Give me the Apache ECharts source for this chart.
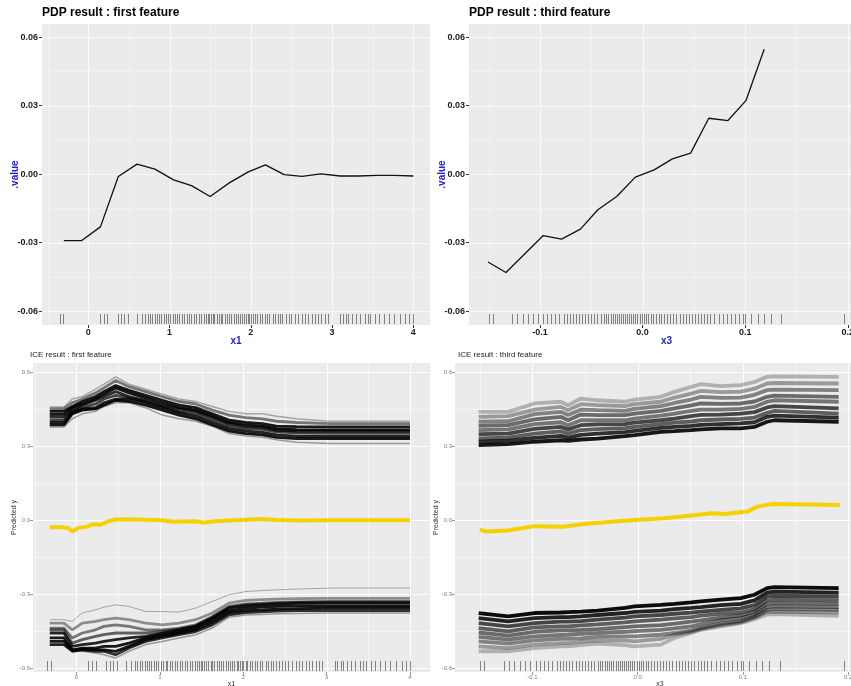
<!DOCTYPE html>
<html><head><meta charset="utf-8">
<script src="https://cdn.jsdelivr.net/npm/echarts@6/dist/echarts.min.js"></script>
<style>html,body{margin:0;padding:0;background:#fff}#c{width:851px;height:686px}</style>
</head><body><div id="c"></div><script>
// ---------- DATA ----------
// PDP, first feature (x1)
const pdpX1 = [-0.30,-0.08,0.15,0.37,0.60,0.82,1.05,1.27,1.50,1.74,1.97,2.18,2.41,2.63,2.86,3.10,3.32,3.55,3.77,4.00];
const pdpY1 = [-0.0291,-0.0291,-0.0231,-0.0010,0.0044,0.0022,-0.0025,-0.0050,-0.0098,-0.0037,0.0010,0.0041,-0.0002,-0.0010,0.0001,-0.0008,-0.0008,-0.0005,-0.0005,-0.0008];
// PDP, third feature (x3)
const pdpX3 = [-0.1507,-0.1332,-0.1150,-0.0968,-0.0790,-0.0606,-0.0436,-0.0252,-0.0071,0.0113,0.0290,0.0468,0.0645,0.0832,0.1007,0.1185];
const pdpY3 = [-0.0385,-0.0431,-0.0350,-0.0269,-0.0285,-0.0241,-0.0156,-0.0098,-0.0013,0.0019,0.0067,0.0092,0.0245,0.0235,0.0322,0.0547];

// rug values
const rugX1 = [-0.35,-0.31,0.14,0.19,0.23,0.36,0.4,0.44,0.49,0.6,0.66,0.7,0.73,0.76,0.79,0.82,0.85,0.87,0.9,0.93,0.96,0.98,1.01,1.04,1.07,1.09,1.12,1.15,1.18,1.21,1.24,1.27,1.3,1.33,1.36,1.39,1.42,1.45,1.47,1.49,1.51,1.53,1.55,1.58,1.61,1.63,1.65,1.68,1.71,1.73,1.76,1.79,1.82,1.84,1.87,1.89,1.92,1.94,1.96,1.98,2.0,2.03,2.05,2.08,2.11,2.14,2.17,2.2,2.23,2.27,2.3,2.33,2.36,2.39,2.43,2.47,2.5,2.54,2.58,2.63,2.67,2.71,2.75,2.79,2.83,2.87,2.91,2.95,3.1,3.13,3.17,3.2,3.24,3.29,3.34,3.4,3.44,3.47,3.53,3.58,3.64,3.7,3.76,3.83,3.9,3.95,4.0];
const rugX3 = [-0.150,-0.146,-0.127,-0.122,-0.117,-0.112,-0.107,-0.102,-0.097,-0.093,-0.089,-0.085,-0.081,-0.077,-0.074,-0.071,-0.068,-0.065,-0.062,-0.059,-0.056,-0.053,-0.050,-0.047,-0.044,-0.041,-0.038,-0.036,-0.034,-0.031,-0.029,-0.027,-0.025,-0.023,-0.021,-0.019,-0.017,-0.015,-0.013,-0.011,-0.009,-0.007,-0.005,-0.003,-0.001,0.001,0.003,0.005,0.008,0.010,0.013,0.016,0.018,0.021,0.024,0.027,0.030,0.033,0.036,0.039,0.042,0.045,0.048,0.051,0.054,0.057,0.060,0.063,0.066,0.070,0.074,0.078,0.082,0.086,0.090,0.094,0.098,0.100,0.106,0.112,0.118,0.125,0.135,0.196];

// ICE, first feature: x grid, upper cluster curves, lower cluster curves, mean curve
const iceX1 = [-0.32,-0.15,-0.05,0.07,0.23,0.33,0.47,0.63,0.83,1.03,1.23,1.43,1.63,1.83,2.03,2.23,2.4,2.64,3.04,4.0];
const ice1Upper = [
  [0.458,0.458,0.49,0.50,0.53,0.55,0.58,0.55,0.53,0.51,0.49,0.48,0.46,0.44,0.43,0.43,0.42,0.41,0.40,0.40],
  [0.450,0.450,0.475,0.49,0.515,0.535,0.565,0.54,0.52,0.50,0.48,0.47,0.445,0.425,0.415,0.41,0.40,0.395,0.39,0.39],
  [0.440,0.440,0.46,0.48,0.50,0.52,0.545,0.525,0.505,0.485,0.465,0.455,0.43,0.405,0.395,0.39,0.38,0.378,0.377,0.377],
  [0.428,0.428,0.455,0.47,0.49,0.51,0.535,0.515,0.495,0.475,0.455,0.445,0.42,0.395,0.385,0.38,0.37,0.366,0.365,0.365],
  [0.418,0.418,0.445,0.465,0.485,0.50,0.52,0.50,0.485,0.465,0.45,0.44,0.415,0.39,0.378,0.375,0.363,0.36,0.36,0.36],
  [0.405,0.405,0.44,0.455,0.47,0.49,0.505,0.495,0.48,0.46,0.44,0.43,0.405,0.38,0.37,0.367,0.357,0.353,0.352,0.352],
  [0.395,0.395,0.435,0.45,0.455,0.475,0.49,0.49,0.475,0.455,0.435,0.42,0.395,0.37,0.36,0.355,0.345,0.34,0.34,0.34],
  [0.385,0.385,0.43,0.445,0.45,0.465,0.485,0.48,0.465,0.445,0.425,0.41,0.385,0.36,0.35,0.345,0.335,0.33,0.33,0.33],
  [0.377,0.377,0.41,0.43,0.44,0.46,0.475,0.475,0.455,0.425,0.41,0.40,0.38,0.35,0.34,0.335,0.325,0.315,0.31,0.31]
];
const ice1Lower = [
  [-0.404,-0.404,-0.411,-0.377,-0.364,-0.353,-0.344,-0.350,-0.371,-0.371,-0.373,-0.357,-0.330,-0.303,-0.290,-0.286,-0.283,-0.280,-0.276,-0.276],
  [-0.418,-0.418,-0.445,-0.418,-0.411,-0.404,-0.398,-0.404,-0.418,-0.425,-0.418,-0.404,-0.377,-0.337,-0.326,-0.323,-0.321,-0.319,-0.318,-0.318],
  [-0.438,-0.438,-0.478,-0.458,-0.445,-0.431,-0.425,-0.431,-0.445,-0.445,-0.438,-0.425,-0.391,-0.350,-0.340,-0.337,-0.334,-0.332,-0.330,-0.330],
  [-0.445,-0.445,-0.499,-0.485,-0.472,-0.465,-0.458,-0.458,-0.458,-0.451,-0.442,-0.429,-0.394,-0.353,-0.344,-0.340,-0.337,-0.334,-0.333,-0.333],
  [-0.458,-0.458,-0.512,-0.505,-0.499,-0.492,-0.485,-0.478,-0.472,-0.458,-0.445,-0.431,-0.398,-0.357,-0.348,-0.344,-0.341,-0.338,-0.337,-0.337],
  [-0.478,-0.478,-0.526,-0.519,-0.519,-0.512,-0.512,-0.499,-0.478,-0.465,-0.452,-0.438,-0.404,-0.367,-0.357,-0.353,-0.350,-0.348,-0.348,-0.348],
  [-0.492,-0.492,-0.528,-0.523,-0.526,-0.526,-0.532,-0.512,-0.485,-0.472,-0.458,-0.445,-0.415,-0.375,-0.367,-0.364,-0.361,-0.359,-0.357,-0.357],
  [-0.505,-0.505,-0.532,-0.526,-0.532,-0.532,-0.546,-0.519,-0.492,-0.478,-0.465,-0.452,-0.425,-0.384,-0.375,-0.372,-0.369,-0.367,-0.367,-0.367],
  [-0.505,-0.505,-0.532,-0.532,-0.539,-0.546,-0.559,-0.532,-0.505,-0.492,-0.478,-0.465,-0.438,-0.394,-0.385,-0.383,-0.380,-0.379,-0.377,-0.377]
];
const iceMeanX1 = [-0.32,-0.15,-0.09,-0.05,0.03,0.13,0.19,0.23,0.29,0.39,0.47,0.63,0.83,1.03,1.15,1.43,1.53,1.63,1.83,2.03,2.23,2.4,2.64,3.04,4.0];
const iceMeanY1 = [-0.030,-0.030,-0.034,-0.047,-0.031,-0.027,-0.018,-0.017,-0.019,-0.004,0.002,0.003,0.001,-0.001,-0.007,-0.005,-0.011,-0.006,-0.002,0.001,0.004,0.0,-0.002,-0.001,-0.001];

// ICE, third feature
const iceX3 = [-0.151,-0.123,-0.098,-0.073,-0.066,-0.054,-0.038,-0.012,-0.003,0.022,0.035,0.051,0.060,0.079,0.098,0.111,0.123,0.130,0.191];
const ice3Upper = [
  [0.438,0.438,0.472,0.479,0.465,0.492,0.485,0.479,0.488,0.499,0.519,0.539,0.550,0.542,0.546,0.559,0.580,0.582,0.580],
  [0.418,0.421,0.447,0.458,0.445,0.469,0.465,0.461,0.469,0.479,0.496,0.512,0.523,0.518,0.520,0.532,0.553,0.555,0.553],
  [0.398,0.400,0.429,0.438,0.425,0.447,0.445,0.442,0.450,0.461,0.474,0.488,0.499,0.495,0.496,0.507,0.526,0.528,0.526],
  [0.381,0.384,0.408,0.418,0.404,0.427,0.425,0.425,0.431,0.442,0.452,0.464,0.472,0.470,0.472,0.480,0.499,0.504,0.499],
  [0.364,0.367,0.388,0.396,0.384,0.404,0.404,0.404,0.411,0.423,0.431,0.442,0.447,0.447,0.450,0.458,0.479,0.485,0.479],
  [0.348,0.350,0.369,0.377,0.367,0.384,0.387,0.388,0.394,0.404,0.411,0.421,0.426,0.427,0.431,0.437,0.456,0.461,0.452],
  [0.330,0.334,0.350,0.359,0.350,0.364,0.368,0.372,0.377,0.388,0.394,0.399,0.404,0.407,0.410,0.415,0.434,0.442,0.431],
  [0.317,0.321,0.333,0.341,0.334,0.345,0.350,0.356,0.361,0.373,0.377,0.381,0.385,0.388,0.391,0.396,0.418,0.423,0.415],
  [0.303,0.307,0.317,0.323,0.321,0.326,0.330,0.340,0.344,0.357,0.360,0.364,0.367,0.371,0.371,0.377,0.398,0.404,0.398]
];
const ice3Lower = [
  [-0.377,-0.391,-0.377,-0.375,-0.373,-0.371,-0.367,-0.356,-0.350,-0.344,-0.340,-0.334,-0.330,-0.323,-0.317,-0.303,-0.276,-0.272,-0.276],
  [-0.398,-0.411,-0.398,-0.394,-0.394,-0.391,-0.385,-0.377,-0.372,-0.367,-0.361,-0.356,-0.353,-0.345,-0.340,-0.326,-0.294,-0.290,-0.294],
  [-0.418,-0.431,-0.418,-0.412,-0.412,-0.410,-0.404,-0.396,-0.391,-0.385,-0.380,-0.375,-0.371,-0.364,-0.358,-0.345,-0.310,-0.307,-0.310],
  [-0.438,-0.451,-0.435,-0.431,-0.431,-0.427,-0.423,-0.415,-0.411,-0.404,-0.399,-0.394,-0.388,-0.380,-0.375,-0.361,-0.326,-0.323,-0.326],
  [-0.456,-0.469,-0.453,-0.447,-0.447,-0.445,-0.442,-0.434,-0.431,-0.426,-0.420,-0.412,-0.407,-0.396,-0.388,-0.372,-0.340,-0.337,-0.340],
  [-0.474,-0.485,-0.472,-0.466,-0.465,-0.461,-0.458,-0.453,-0.450,-0.445,-0.439,-0.431,-0.423,-0.407,-0.398,-0.383,-0.353,-0.350,-0.353],
  [-0.492,-0.501,-0.488,-0.482,-0.482,-0.480,-0.474,-0.472,-0.472,-0.465,-0.458,-0.447,-0.437,-0.420,-0.410,-0.391,-0.364,-0.361,-0.364],
  [-0.512,-0.519,-0.505,-0.499,-0.499,-0.494,-0.489,-0.488,-0.492,-0.482,-0.465,-0.453,-0.442,-0.426,-0.415,-0.396,-0.372,-0.371,-0.375],
  [-0.532,-0.532,-0.519,-0.512,-0.512,-0.507,-0.501,-0.507,-0.512,-0.505,-0.478,-0.458,-0.445,-0.431,-0.418,-0.402,-0.383,-0.381,-0.388]
];
const iceMeanX3 = [-0.150,-0.144,-0.1235,-0.098,-0.070,-0.051,-0.025,-0.003,0.025,0.051,0.070,0.082,0.104,0.114,0.128,0.192];
const iceMeanY3 = [-0.038,-0.047,-0.043,-0.025,-0.027,-0.016,-0.007,0.000,0.007,0.018,0.027,0.024,0.034,0.054,0.065,0.061];

// tick labels / grid breaks
const pdpYTicks = [-0.06,-0.03,0,0.03,0.06];
const pdpYMinor = [-0.045,-0.015,0.015,0.045];
const x1Ticks = [0,1,2,3,4];
const x1Minor = [-0.5,0.5,1.5,2.5,3.5];
const x3Ticks = [-0.1,0,0.1,0.2];
const x3Minor = [-0.15,-0.05,0.05,0.15];
const iceYTicks = [-0.6,-0.3,0,0.3,0.6];
const iceYMinor = [-0.45,-0.15,0.15,0.45];

const titles = ['PDP result : first feature','PDP result : third feature','ICE result : first feature','ICE result : third feature'];

// ---------- LAYOUT / STYLE ----------
const FONT = "'Liberation Sans', Arial, Helvetica, sans-serif";
const panels = [
  {left:42, top:24, width:388, height:301, xMin:-0.569, xMax:4.205, yMin:-0.0661, yMax:0.0658, xT:x1Ticks, xM:x1Minor, yT:pdpYTicks, yM:pdpYMinor, xDec:0, yDec:2, kind:'pdp', xName:'x1', yName:'.value', rug:rugX1},
  {left:469, top:24, width:395, height:301, xMin:-0.1692, xMax:0.2158, yMin:-0.0661, yMax:0.0658, xT:x3Ticks, xM:x3Minor, yT:pdpYTicks, yM:pdpYMinor, xDec:1, yDec:2, kind:'pdp', xName:'x3', yName:'.value', rug:rugX3},
  {left:33, top:363, width:397, height:309, xMin:-0.521, xMax:4.24, yMin:-0.616, yMax:0.636, xT:x1Ticks, xM:x1Minor, yT:iceYTicks, yM:iceYMinor, xDec:0, yDec:1, kind:'ice', xName:'x1', yName:'Predicted y', rug:rugX1},
  {left:455, top:363, width:410, height:309, xMin:-0.1735, xMax:0.216, yMin:-0.616, yMax:0.636, xT:x3Ticks, xM:x3Minor, yT:iceYTicks, yM:iceYMinor, xDec:1, yDec:1, kind:'ice', xName:'x3', yName:'Predicted y', rug:rugX3}
];
const titlePos = [{left:42, top:7, size:12, bold:true}, {left:469, top:7, size:12, bold:true}, {left:30, top:351, size:8, bold:false}, {left:458, top:351, size:8, bold:false}];

const grid = [], xAxis = [], yAxis = [], series = [], title = [];
panels.forEach((p, i) => {
  const pdp = p.kind === 'pdp';
  grid.push({left:p.left, top:p.top, width:p.width, height:p.height, show:true, backgroundColor:'#EBEBEB', borderWidth:0, containLabel:false, outerBoundsMode:'none'});
  const lblStyle = pdp ? {fontSize:9, fontWeight:'bold', color:'#1a1a1a', fontFamily:FONT}
                       : {fontSize:6, color:'#7f7f7f', fontFamily:FONT};
  const nameStyle = pdp ? {fontSize:10, fontWeight:'bold', color:'#2222cc', fontFamily:FONT}
                        : {fontSize:7, color:'#333', fontFamily:FONT};
  xAxis.push({type:'value', gridIndex:i, min:p.xMin, max:p.xMax, position:'bottom',
    axisLine:{show:false, onZero:false}, splitLine:{show:false},
    axisTick:{show:true, length:3, customValues:p.xT, lineStyle:{color: pdp ? '#333' : '#999'}},
    axisLabel:{customValues:p.xT, margin: pdp ? 3 : 2, formatter:v => Number(v).toFixed(p.xDec), ...lblStyle},
    name:p.xName, nameLocation:'middle', nameGap: pdp ? 11 : 9, nameTextStyle:nameStyle, nameMoveOverlap:false});
  yAxis.push({type:'value', gridIndex:i, min:p.yMin, max:p.yMax, position:'left',
    axisLine:{show:false, onZero:false}, splitLine:{show:false},
    axisTick:{show:true, length:3, customValues:p.yT, lineStyle:{color: pdp ? '#333' : '#999'}},
    axisLabel:{customValues:p.yT, margin: pdp ? 4 : 3, formatter:v => Number(v).toFixed(p.yDec), ...lblStyle},
    name:p.yName, nameLocation:'middle', nameGap: pdp ? 22 : 15, nameRotate:90, nameTextStyle:nameStyle, nameMoveOverlap:false});
  const tp = titlePos[i];
  title.push({text:titles[i], left:tp.left, top:tp.top, padding:0,
    textStyle:{fontSize:tp.size, fontWeight: tp.bold ? 'bold' : 'normal', color: tp.bold ? '#000' : '#222', fontFamily:FONT}});

  // grid lines (major + minor) through the axes' scales
  const gl = [];
  p.xT.forEach(v => gl.push([v, 0, 0, 1]));
  p.xM.forEach(v => gl.push([v, 0, 0, 0]));
  p.yT.forEach(v => gl.push([0, v, 1, 1]));
  p.yM.forEach(v => gl.push([0, v, 1, 0]));
  const gCol = pdp ? 'rgba(255,255,255,0.75)' : '#ffffff';
  series.push({type:'custom', xAxisIndex:i, yAxisIndex:i, silent:true, z:1, data:gl,
    renderItem:(params, api) => {
      const cs = params.coordSys;
      const pt = api.coord([api.value(0), api.value(1)]);
      const major = api.value(3) === 1;
      const w = major ? 1 : 0.5;
      if (api.value(2) === 0) {
        const x = Math.round(pt[0]) + 0.5;
        if (x < cs.x || x > cs.x + cs.width) return null;
        return {type:'line', shape:{x1:x, y1:cs.y, x2:x, y2:cs.y + cs.height}, style:{stroke:gCol, lineWidth:w}};
      } else {
        const y = Math.round(pt[1]) + 0.5;
        if (y < cs.y || y > cs.y + cs.height) return null;
        return {type:'line', shape:{x1:cs.x, y1:y, x2:cs.x + cs.width, y2:y}, style:{stroke:gCol, lineWidth:w}};
      }
    }});
  // rug
  series.push({type:'custom', xAxisIndex:i, yAxisIndex:i, silent:true, z:3, data:p.rug.map(v => [v, 0]),
    renderItem:(params, api) => {
      const cs = params.coordSys;
      const x = Math.round(api.coord([api.value(0), 0])[0]) + 0.5;
      const yb = cs.y + cs.height;
      return {type:'line', shape:{x1:x, y1:yb - 1, x2:x, y2:yb - 11}, style:{stroke:'rgba(0,0,0,0.45)', lineWidth:1}};
    }});
});

function pairs(xs, ys) { return xs.map((x, k) => [x, ys[k]]); }
function addLine(idx, xs, ys, color, width, z) {
  series.push({type:'line', xAxisIndex:idx, yAxisIndex:idx, data:pairs(xs, ys), symbol:'none', silent:true, z:z || 2,
    lineStyle:{color:color, width:width}, emphasis:{disabled:true}});
}
// PDP lines
addLine(0, pdpX1, pdpY1, '#111', 1.3);
addLine(1, pdpX3, pdpY3, '#111', 1.3);
// ICE lines
const alphaUp1 = [0.3,0.5,0.9,0.9,0.8,0.7,0.85,0.9,0.35];
const alphaLo1 = [0.3,0.4,0.5,0.6,0.85,0.9,0.9,0.8,0.35];
ice1Upper.forEach((ys, k) => addLine(2, iceX1, ys, `rgba(0,0,0,${alphaUp1[k]})`, k === 0 || k === 8 ? 1.5 : 2.8));
ice1Lower.forEach((ys, k) => addLine(2, iceX1, ys, `rgba(0,0,0,${alphaLo1[k]})`, k === 0 ? 1 : (k === 8 ? 1.5 : 2.8)));
addLine(2, iceMeanX1, iceMeanY1, '#F6D000', 4, 5);
const alphaUp3 = [0.25,0.35,0.45,0.55,0.5,0.7,0.6,0.8,0.9];
const alphaLo3 = [0.95,0.85,0.7,0.6,0.55,0.5,0.45,0.35,0.25];
ice3Upper.forEach((ys, k) => addLine(3, iceX3, ys, `rgba(0,0,0,${alphaUp3[k]})`, 3.8));
ice3Lower.forEach((ys, k) => addLine(3, iceX3, ys, `rgba(0,0,0,${alphaLo3[k]})`, 3.8));
addLine(3, iceMeanX3, iceMeanY3, '#F6D000', 4, 5);

const chart = echarts.init(document.getElementById('c'), null, {renderer:'canvas'});
chart.setOption({animation:false, backgroundColor:'#ffffff', title, grid, xAxis, yAxis, series});
</script></body></html>
